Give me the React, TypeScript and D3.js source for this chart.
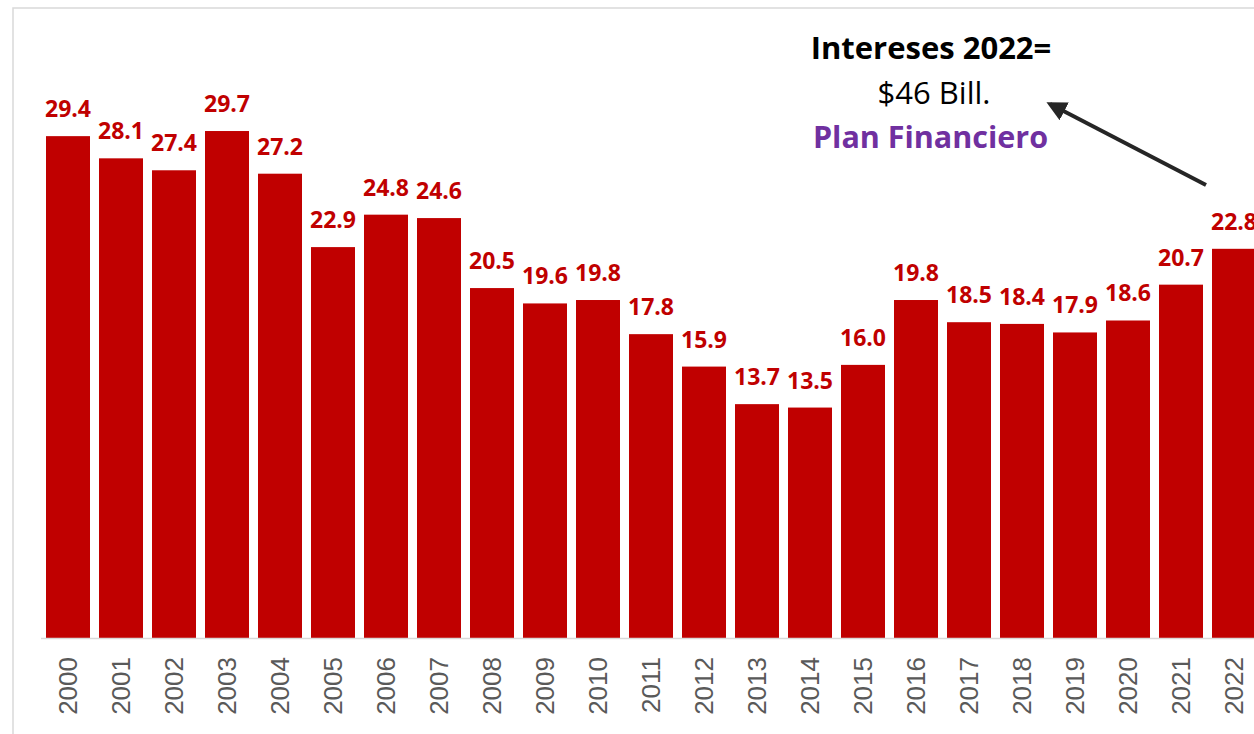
import React from "react";
import * as d3 from "d3";

const years = ["2000","2001","2002","2003","2004","2005","2006","2007","2008","2009","2010","2011","2012","2013","2014","2015","2016","2017","2018","2019","2020","2021","2022"];
const values = [29.4,28.1,27.4,29.7,27.2,22.9,24.8,24.6,20.5,19.6,19.8,17.8,15.9,13.7,13.5,16.0,19.8,18.5,18.4,17.9,18.6,20.7,22.8];
const annotationLines = ["Intereses 2022=", "$46 Bill.", "Plan Financiero"];

const W = 1254;
const H = 734;
const baseY = 638;

export default function App() {
  const x = d3.scaleBand<string>().domain(years).range([41.5, 1260.5]).paddingInner(0.17).paddingOuter(0.085);
  const y = d3.scaleLinear().domain([0, 30]).range([baseY, baseY - 30 * 17.07]);
  const font = "'Open Sans', 'Liberation Sans', sans-serif";
  return (
    <svg width={W} height={H} style={{ position: "absolute", left: 0, top: 0, background: "#fff" }}>
      <defs>
        <marker id="ah" viewBox="0 0 10 10" refX="8" refY="5" markerWidth="5" markerHeight="5" orient="auto">
          <path d="M0,0 L10,5 L0,10 z" fill="#262626" />
        </marker>
      </defs>
      <rect x={13} y={8} width={W + 20} height={H + 20} fill="#fff" stroke="#d9d9d9" strokeWidth={1.5} />
      {years.map((yr, i) => (
        <rect key={yr} x={x(yr)} y={y(values[i])} width={x.bandwidth()} height={baseY - y(values[i])} fill="#c00000" />
      ))}
      <line x1={41} x2={W} y1={baseY + 0.5} y2={baseY + 0.5} stroke="#d9d9d9" strokeWidth={1.5} />
      {years.map((yr, i) => (
        <text key={"l" + yr} x={(x(yr) as number) + x.bandwidth() / 2} y={y(values[i]) - 19} textAnchor="middle"
          fontFamily={font} fontWeight="bold" fontSize={23} fill="#c00000">{values[i].toFixed(1)}</text>
      ))}
      {years.map((yr) => {
        const cx = (x(yr) as number) + x.bandwidth() / 2;
        return (
          <text key={"t" + yr} transform={`translate(${cx + 9},${baseY + 19}) rotate(-90)`} textAnchor="end"
            fontFamily="'Liberation Sans', Arial, sans-serif" fontSize={26} fill="#595959">{yr}</text>
        );
      })}
      <text x={931} y={59} textAnchor="middle" fontFamily={font} fontWeight="bold" fontSize={31} fill="#000">{annotationLines[0]}</text>
      <text x={934} y={104} textAnchor="middle" fontFamily={font} fontSize={31} fill="#000">{annotationLines[1]}</text>
      <text x={930.5} y={148} textAnchor="middle" fontFamily={font} fontWeight="bold" fontSize={30.5} fill="#7030a0">{annotationLines[2]}</text>
      <line x1={1206} y1={185} x2={1050} y2={104} stroke="#262626" strokeWidth={4} markerEnd="url(#ah)" />
    </svg>
  );
}
